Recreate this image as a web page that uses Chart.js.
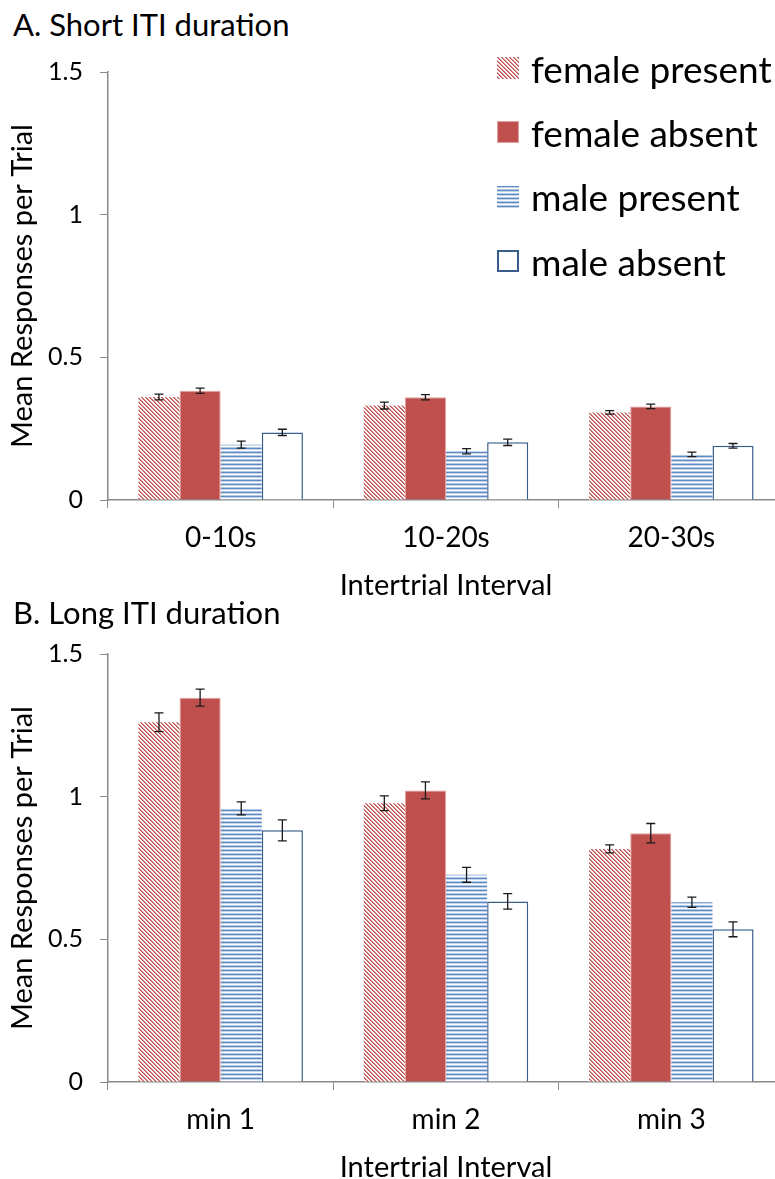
<!DOCTYPE html>
<html>
<head>
<meta charset="utf-8">
<script src="https://cdn.jsdelivr.net/npm/chart.js@4"></script>
<style>
  html, body { margin: 0; padding: 0; background: #fff; }
  body { width: 775px; height: 1179px; overflow: hidden; position: relative; font-family: Lato, "Open Sans", sans-serif; color: #000; }
  canvas.chart { position: absolute; left: 0; }
  .panel-title { position: absolute; left: 13px; font-size: 31px; line-height: 34px; white-space: nowrap; }
  #legend { position: absolute; left: 497px; top: 36px; }
  .legend-row { height: 64.3px; display: flex; align-items: center; font-size: 37px; white-space: nowrap; }
  .legend-row canvas { margin-right: 12px; }
</style>
</head>
<body>
<div class="panel-title" style="top:7px;">A. Short ITI duration</div>
<canvas id="chartA" class="chart" width="784" height="605" style="top:0px;"></canvas>
<div class="panel-title" style="top:595px;">B. Long ITI duration</div>
<canvas id="chartB" class="chart" width="784" height="605" style="top:582px;"></canvas>
<div id="legend"></div>

<script>
// categories
const shortCategories = ['0-10s', '10-20s', '20-30s'];
const longCategories = ['min 1', 'min 2', 'min 3'];
const seriesNames = ['female present', 'female absent', 'male present', 'male absent'];
const yTickValues = [0, 0.5, 1, 1.5];

// A. short ITI means
const shortFemalePresent = [0.361, 0.331, 0.307];
const shortFemaleAbsent = [0.383, 0.360, 0.328];
const shortMalePresent = [0.194, 0.171, 0.160];
const shortMaleAbsent = [0.237, 0.202, 0.190];
// A. short ITI error bars (+/-)
const shortFemalePresentErr = [0.010, 0.012, 0.006];
const shortFemaleAbsentErr = [0.009, 0.009, 0.008];
const shortMalePresentErr = [0.012, 0.009, 0.008];
const shortMaleAbsentErr = [0.011, 0.011, 0.008];

// B. long ITI means
const longFemalePresent = [1.261, 0.977, 0.817];
const longFemaleAbsent = [1.347, 1.022, 0.872];
const longMalePresent = [0.959, 0.726, 0.630];
const longMaleAbsent = [0.882, 0.633, 0.535];
// B. long ITI error bars (+/-)
const longFemalePresentErr = [0.033, 0.026, 0.014];
const longFemaleAbsentErr = [0.030, 0.030, 0.034];
const longMalePresentErr = [0.023, 0.026, 0.018];
const longMaleAbsentErr = [0.037, 0.027, 0.026];

const FONT = 'Lato, "Open Sans", sans-serif';
const red = '#c0504d';
const navy = '#385d8a';

// small repeating tiles for the hatched fills
function makeTile(kind) {
    const c = document.createElement('canvas');
    c.width = 4; c.height = 4;
    const g = c.getContext('2d');
    if (kind === 'diag') {
        // diagonal red hatching (female present)
        g.fillStyle = '#fff'; g.fillRect(0, 0, 4, 4);
        for (let y = 0; y < 4; y++) for (let x = 0; x < 4; x++) {
            const d = (x - y + 8) % 4;
            if (d === 0) { g.fillStyle = red; g.fillRect(x, y, 1, 1); }
            else if (d === 1) { g.fillStyle = '#d88886'; g.fillRect(x, y, 1, 1); }
        }
    } else {
        // horizontal blue lines (male present)
        ['#5f8bc4', '#c6d5ea', '#ffffff', '#b3c7e2'].forEach((col, i) => { g.fillStyle = col; g.fillRect(0, i, 4, 1); });
    }
    return c;
}

const diagTile = makeTile('diag');
const horizTile = makeTile('horiz');
const scratch = document.createElement('canvas').getContext('2d');
const diagPattern = scratch.createPattern(diagTile, 'repeat');
const horizPattern = scratch.createPattern(horizTile, 'repeat');

const seriesStyles = [
    { backgroundColor: diagPattern, borderColor: '#f0c8c7', borderWidth: 0 },
    { backgroundColor: red, borderColor: '#e3a09e', borderWidth: 1 },
    { backgroundColor: horizPattern, borderColor: '#b3c7e2', borderWidth: 0 },
    { backgroundColor: '#ffffff', borderColor: navy, borderWidth: 1.5 }
];

// error bars drawn from the dataset values + errors via the y scale
const errorBarPlugin = {
    id: 'errorBars',
    afterDatasetsDraw(chart) {
        const ctx = chart.ctx;
        const yScale = chart.scales.y;
        ctx.save();
        ctx.strokeStyle = '#1a1a1a';
        ctx.lineWidth = 1.3;
        chart.data.datasets.forEach((ds, i) => {
            const meta = chart.getDatasetMeta(i);
            meta.data.forEach((bar, j) => {
                const v = ds.data[j];
                const e = ds.errors[j];
                const yTop = yScale.getPixelForValue(v + e);
                const yBot = yScale.getPixelForValue(v - e);
                const x = bar.x;
                ctx.beginPath();
                ctx.moveTo(x, yTop); ctx.lineTo(x, yBot);
                ctx.moveTo(x - 4.5, yTop); ctx.lineTo(x + 4.5, yTop);
                ctx.moveTo(x - 4.5, yBot); ctx.lineTo(x + 4.5, yBot);
                ctx.stroke();
            });
        });
        ctx.restore();
    }
};

function makeChart(id, labels, values, errors) {
    const ctx = document.getElementById(id).getContext('2d');
    return new Chart(ctx, {
        type: 'bar',
        data: {
            labels: labels,
            datasets: values.map((vals, i) => Object.assign({
                label: seriesNames[i],
                data: vals,
                errors: errors[i],
                borderSkipped: 'bottom',
                barPercentage: 1.0,
                categoryPercentage: 0.73
            }, seriesStyles[i]))
        },
        options: {
            responsive: false,
            animation: false,
            layout: { padding: { top: 72, left: 0, right: 0, bottom: 0 } },
            plugins: {
                legend: { display: false },
                tooltip: { enabled: false }
            },
            scales: {
                x: {
                    grid: { drawOnChartArea: false, drawTicks: true, tickLength: 8, color: '#8a8a8a', offset: true },
                    border: { color: '#8a8a8a', width: 1.5 },
                    ticks: { color: '#000', font: { family: FONT, size: 28 }, padding: 13 },
                    title: { display: true, text: 'Intertrial Interval', color: '#000', font: { family: FONT, size: 29 }, padding: { top: 0, bottom: 2 } },
                    afterFit(scale) { scale.height = 105; }
                },
                y: {
                    min: 0,
                    max: 1.5,
                    afterBuildTicks(scale) { scale.ticks = yTickValues.map(v => ({ value: v })); },
                    grid: { drawOnChartArea: false, drawTicks: true, tickLength: 8, color: '#8a8a8a' },
                    border: { color: '#8a8a8a', width: 1.5 },
                    ticks: { color: '#000', font: { family: FONT, size: 25 }, padding: 17, callback: v => String(v) },
                    title: { display: true, text: 'Mean Responses per Trial', color: '#000', font: { family: FONT, size: 29 }, padding: { top: 5, bottom: 0 } },
                    afterFit(scale) { scale.width = 108; }
                }
            }
        },
        plugins: [errorBarPlugin]
    });
}

makeChart('chartA', shortCategories,
    [shortFemalePresent, shortFemaleAbsent, shortMalePresent, shortMaleAbsent],
    [shortFemalePresentErr, shortFemaleAbsentErr, shortMalePresentErr, shortMaleAbsentErr]);

makeChart('chartB', longCategories,
    [longFemalePresent, longFemaleAbsent, longMalePresent, longMaleAbsent],
    [longFemalePresentErr, longFemaleAbsentErr, longMalePresentErr, longMaleAbsentErr]);

// legend with swatches filled like the bars
const legendEl = document.getElementById('legend');
seriesNames.forEach((name, i) => {
    const row = document.createElement('div');
    row.className = 'legend-row';
    const sw = document.createElement('canvas');
    sw.width = 22; sw.height = 22;
    const g = sw.getContext('2d');
    if (i === 0) g.fillStyle = g.createPattern(diagTile, 'repeat');
    else if (i === 2) g.fillStyle = g.createPattern(horizTile, 'repeat');
    else g.fillStyle = seriesStyles[i].backgroundColor;
    g.fillRect(0, 0, 22, 22);
    if (i === 1) { g.strokeStyle = seriesStyles[i].borderColor; g.lineWidth = 1; g.strokeRect(0.5, 0.5, 21, 21); }
    if (i === 3) { g.strokeStyle = navy; g.lineWidth = 2; g.strokeRect(1, 1, 20, 20); }
    const label = document.createElement('span');
    label.textContent = name;
    row.appendChild(sw);
    row.appendChild(label);
    legendEl.appendChild(row);
});
</script>
</body>
</html>
